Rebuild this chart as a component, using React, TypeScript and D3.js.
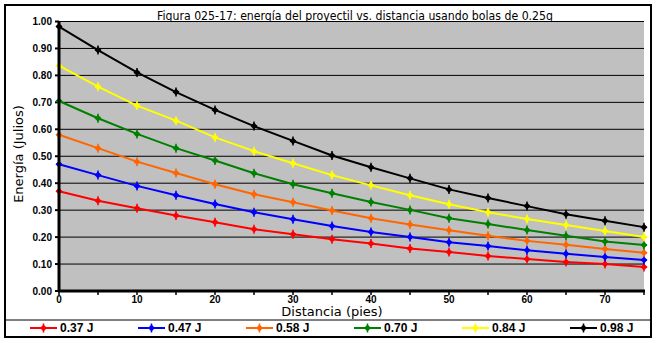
import React from "react";
import * as d3 from "d3";

const distances = [0, 5, 10, 15, 20, 25, 30, 35, 40, 45, 50, 55, 60, 65, 70, 75];
const seriesNames = ["0.37 J", "0.47 J", "0.58 J", "0.70 J", "0.84 J", "0.98 J"];
const seriesColors = ["#FF0000", "#0000FF", "#FF6600", "#008000", "#FFFF00", "#000000"];
const s037 = [0.37, 0.335, 0.307, 0.28, 0.255, 0.229, 0.211, 0.192, 0.176, 0.158, 0.145, 0.13, 0.119, 0.108, 0.1, 0.089];
const s047 = [0.47, 0.43, 0.39, 0.355, 0.323, 0.292, 0.266, 0.241, 0.219, 0.2, 0.181, 0.167, 0.151, 0.138, 0.126, 0.115];
const s058 = [0.58, 0.53, 0.48, 0.438, 0.396, 0.359, 0.329, 0.299, 0.27, 0.247, 0.225, 0.205, 0.186, 0.172, 0.156, 0.142];
const s070 = [0.705, 0.641, 0.583, 0.53, 0.484, 0.437, 0.396, 0.363, 0.33, 0.301, 0.27, 0.249, 0.226, 0.205, 0.184, 0.171];
const s084 = [0.836, 0.758, 0.688, 0.632, 0.57, 0.519, 0.474, 0.43, 0.392, 0.355, 0.322, 0.292, 0.267, 0.245, 0.223, 0.2];
const s098 = [0.981, 0.894, 0.811, 0.738, 0.672, 0.612, 0.557, 0.503, 0.459, 0.418, 0.377, 0.345, 0.315, 0.285, 0.261, 0.237];
const seriesValues = [s037, s047, s058, s070, s084, s098];
const yTicks = [0, 0.1, 0.2, 0.3, 0.4, 0.5, 0.6, 0.7, 0.8, 0.9, 1.0];
const xTickLabels = [0, 10, 20, 30, 40, 50, 60, 70];
const xMinorTicks = [5, 15, 25, 35, 45, 55, 65, 75];
const titleText = "Figura 025-17: energía del proyectil vs. distancia usando bolas de 0.25g";
const xLabel = "Distancia (pies)";
const yLabel = "Energía (Julios)";

const W = 657;
const H = 343;
const plot = { left: 59, right: 644, top: 21.5, bottom: 291 };

function Marker({ x, y, color }: { x: number; y: number; color: string }) {
  const r = 3.5;
  return (
    <g>
      <path d={`M${x},${y - r}L${x + r},${y}L${x},${y + r}L${x - r},${y}Z`} fill={color} />
      <path d={`M${x - 3},${y}L${x + 3},${y}M${x},${y - 4.5}L${x},${y + 4.5}`} stroke={color} strokeWidth={1.5} />
    </g>
  );
}

export default function App() {
  const x = d3.scaleLinear().domain([0, 75]).range([plot.left, plot.right]);
  const y = d3.scaleLinear().domain([0, 1]).range([plot.bottom, plot.top]);
  const line = d3
    .line<number>()
    .x((_, i) => x(distances[i]))
    .y((d) => y(d));

  const bold = "'Liberation Sans', Arial, sans-serif";
  const sans = "'DejaVu Sans', Verdana, sans-serif";

  return (
    <svg width={W} height={H} style={{ position: "absolute", left: 0, top: 0 }}>
      <rect x={0} y={0} width={W} height={H} fill="#fff" />
      <rect x={5} y={5} width={646} height={332} fill="#fff" stroke="#000" strokeWidth={2} />
      <text x={355} y={19.5} textAnchor="middle" fontFamily={sans} fontSize={13} textLength={396} lengthAdjust="spacingAndGlyphs" fill="#000">
        {titleText}
      </text>
      <rect x={plot.left} y={plot.top} width={plot.right - plot.left} height={plot.bottom - plot.top} fill="#C0C0C0" />
      {yTicks.map((t) => (
        <g key={t}>
          {t > 0 && <line x1={plot.left} x2={plot.right} y1={y(t)} y2={y(t)} stroke="#000" strokeWidth={1} />}
          <line x1={plot.left - 4} x2={plot.left} y1={y(t)} y2={y(t)} stroke="#000" strokeWidth={2} />
          <text x={52} y={y(t) + 3.5} textAnchor="end" fontFamily={bold} fontWeight="bold" fontSize={10} fill="#000">
            {t.toFixed(2)}
          </text>
        </g>
      ))}
      {seriesValues.map((vals, si) => (
        <g key={si}>
          <path d={line(vals) || ""} fill="none" stroke={seriesColors[si]} strokeWidth={2} />
          {vals.map((v, i) => (
            <Marker key={i} x={x(distances[i])} y={y(v)} color={seriesColors[si]} />
          ))}
        </g>
      ))}
      <line x1={plot.left} x2={plot.left} y1={plot.top} y2={plot.bottom + 1} stroke="#000" strokeWidth={3} />
      <line x1={plot.left - 1} x2={plot.right + 1} y1={plot.bottom} y2={plot.bottom} stroke="#000" strokeWidth={3} />
      {xTickLabels.concat(xMinorTicks).map((t) => (
        <line key={"t" + t} x1={x(t)} x2={x(t)} y1={plot.bottom} y2={plot.bottom + 4} stroke="#000" strokeWidth={1.5} />
      ))}
      {xTickLabels.map((t) => (
        <text key={t} x={x(t)} y={303} textAnchor="middle" fontFamily={bold} fontWeight="bold" fontSize={10} fill="#000">
          {t}
        </text>
      ))}
      <text x={332} y={316} textAnchor="middle" fontFamily={sans} fontSize={13} fill="#000">
        {xLabel}
      </text>
      <text transform="translate(23,154) rotate(-90)" textAnchor="middle" fontFamily={sans} fontSize={13} fill="#000">
        {yLabel}
      </text>
      <line x1={5} x2={651} y1={320} y2={320} stroke="#000" strokeWidth={1} />
      {seriesNames.map((n, i) => {
        const lx = 30 + i * 108;
        return (
          <g key={n}>
            <line x1={lx} x2={lx + 27} y1={328} y2={328} stroke={seriesColors[i]} strokeWidth={2} />
            <Marker x={lx + 13.5} y={328} color={seriesColors[i]} />
            <text x={lx + 30} y={332} fontFamily={bold} fontWeight="bold" fontSize={12} fill="#000">
              {n}
            </text>
          </g>
        );
      })}
    </svg>
  );
}
